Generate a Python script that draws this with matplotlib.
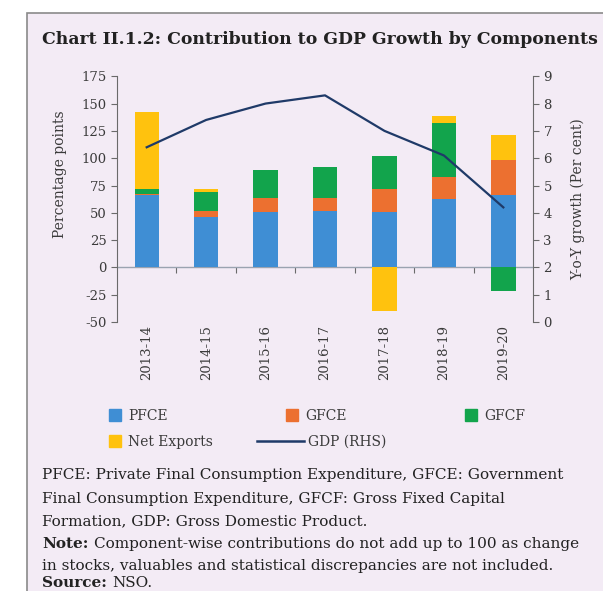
import matplotlib
matplotlib.use("Agg")
import matplotlib.pyplot as plt
import numpy as np
from matplotlib.patches import Patch, Rectangle
from matplotlib.lines import Line2D

plt.rcParams['axes.unicode_minus'] = False

# Data
years = ['2013-14', '2014-15', '2015-16', '2016-17', '2017-18', '2018-19', '2019-20']
pfce = [66, 46, 51, 52, 51, 63, 66]
gfce = [1, 6, 13, 12, 21, 20, 32]
gfcf = [5, 17, 25, 28, 30, 49, -22]
net_exports = [70, 3, 0, 0, -40, 7, 23]
gdp = [6.4, 7.4, 8.0, 8.3, 7.0, 6.1, 4.2]

c_pfce = '#3f8ed4'
c_gfce = '#ec7030'
c_gfcf = '#12a44c'
c_nx = '#ffc20e'
c_gdp = '#1f3a68'
bg = '#f3ebf5'
txt = '#3a3a3a'

fig = plt.figure(figsize=(6.03, 5.91), dpi=100)
fig.patch.set_facecolor('white')
# boxed panel
fig.patches.append(Rectangle((27 / 603, -0.01), 1.0, 0.988, transform=fig.transFigure,
                             facecolor=bg, edgecolor='#8a8a8a', linewidth=1.2, zorder=-5))

ax = fig.add_axes([0.194, 0.455, 0.69, 0.416])
ax.set_facecolor('none')

x = np.arange(len(years))
w = 0.41
pos_bottom = np.zeros(len(years))
neg_bottom = np.zeros(len(years))
for vals, col, lab in [(pfce, c_pfce, 'PFCE'), (gfce, c_gfce, 'GFCE'),
                       (gfcf, c_gfcf, 'GFCF'), (net_exports, c_nx, 'Net Exports')]:
    vals = np.array(vals, dtype=float)
    bottom = np.where(vals >= 0, pos_bottom, neg_bottom)
    ax.bar(x, vals, w, bottom=bottom, color=col, label=lab, zorder=2)
    pos_bottom += np.where(vals >= 0, vals, 0)
    neg_bottom += np.where(vals < 0, vals, 0)

ax.set_xlim(-0.5, 6.5)
ax.set_ylim(-50, 175)
ax.set_yticks(np.arange(-50, 176, 25))
ax.axhline(0, color='#9aa3b0', linewidth=1.0, zorder=1)

for s in ['top', 'right', 'bottom']:
    ax.spines[s].set_visible(False)
ax.spines['left'].set_color('#6a6a6a')
ax.set_xticks(x)
ax.set_xticklabels(years, rotation=90, fontsize=9.5, color=txt, family='DejaVu Serif')
ax.tick_params(axis='x', length=0, pad=2)
ax.tick_params(axis='y', direction='out', length=4, color='#6a6a6a', labelsize=9.5,
               labelcolor=txt)
for t in ax.get_yticklabels():
    t.set_family('DejaVu Serif')
ax.set_ylabel('Percentage points', fontsize=10, color=txt, family='DejaVu Serif')
ax.yaxis.set_label_coords(-0.12, 0.6)

# small ticks on the zero line between categories
sec = ax.secondary_xaxis(50 / 225)
sec.set_xticks(np.arange(0.5, 6.5, 1))
sec.set_xticklabels([])
sec.spines['bottom'].set_visible(False)
sec.tick_params(length=4, direction='out', color='#6a6a6a')

ax2 = ax.twinx()
ax2.plot(x, gdp, color=c_gdp, linewidth=1.6, zorder=3)
ax2.set_ylim(0, 9)
ax2.set_yticks(np.arange(0, 10, 1))
for s in ['top', 'left', 'bottom']:
    ax2.spines[s].set_visible(False)
ax2.spines['right'].set_color('#6a6a6a')
ax2.tick_params(axis='y', direction='out', length=4, color='#6a6a6a', labelsize=9.5,
                labelcolor=txt)
for t in ax2.get_yticklabels():
    t.set_family('DejaVu Serif')
ax2.set_ylabel('Y-o-Y growth (Per cent)', fontsize=10, color=txt, family='DejaVu Serif')
ax2.yaxis.set_label_coords(1.09, 0.5)

fig.text(42 / 603, 1 - 40 / 591, 'Chart II.1.2: Contribution to GDP Growth by Components',
         fontsize=12.4, fontweight='bold', family='DejaVu Serif', color='#222222',
         va='center', ha='left')

# legend
prop = {'family': 'DejaVu Serif', 'size': 10}
fig.legend([Patch(color=c_pfce), Patch(color=c_gfce), Patch(color=c_gfcf)],
           ['PFCE', 'GFCE', 'GFCF'], ncol=3, loc='center left',
           bbox_to_anchor=(103 / 603, 1 - 416 / 591), handlelength=0.9,
           handleheight=0.9, columnspacing=8.5, frameon=False, handletextpad=0.5,
           borderaxespad=0, prop=prop, labelcolor=txt)
fig.legend([Patch(color=c_nx)], ['Net Exports'], loc='center left',
           bbox_to_anchor=(103 / 603, 1 - 442 / 591), handlelength=0.9,
           handleheight=0.9, frameon=False, handletextpad=0.5,
           borderaxespad=0, prop=prop, labelcolor=txt)
fig.legend([Line2D([], [], color=c_gdp, linewidth=1.8)], ['GDP (RHS)'],
           loc='center left', bbox_to_anchor=(251 / 603, 1 - 442 / 591),
           handlelength=3.4, frameon=False, handletextpad=0.3,
           borderaxespad=0, prop=prop, labelcolor=txt)

# notes
fs = 11.0
note_kw = dict(fontsize=fs, family='DejaVu Serif', color='#222222', va='baseline', ha='left')
ann_kw = dict(fontsize=fs, family='DejaVu Serif', color='#222222', va='bottom', ha='left',
              xy=(1, 0), xytext=(4, 0), textcoords='offset points', annotation_clip=False)
lines = ['PFCE: Private Final Consumption Expenditure, GFCE: Government',
         'Final Consumption Expenditure, GFCF: Gross Fixed Capital',
         'Formation, GDP: Gross Domestic Product.']
baselines = [479, 503, 525, 548, 570, 587]
for ln, yb in zip(lines, baselines):
    fig.text(42 / 603, 1 - yb / 591, ln, **note_kw)
nb = fig.text(42 / 603, 1 - baselines[3] / 591, 'Note:', fontweight='bold', **note_kw)
ax.annotate('Component-wise contributions do not add up to 100 as change',
            xycoords=nb, **ann_kw)
fig.text(42 / 603, 1 - baselines[4] / 591,
         'in stocks, valuables and statistical discrepancies are not included.', **note_kw)
sb = fig.text(42 / 603, 1 - baselines[5] / 591, 'Source:', fontweight='bold', **note_kw)
ax.annotate('NSO.', xycoords=sb, **ann_kw)

fig.savefig('out.png', dpi=100, facecolor='white')
